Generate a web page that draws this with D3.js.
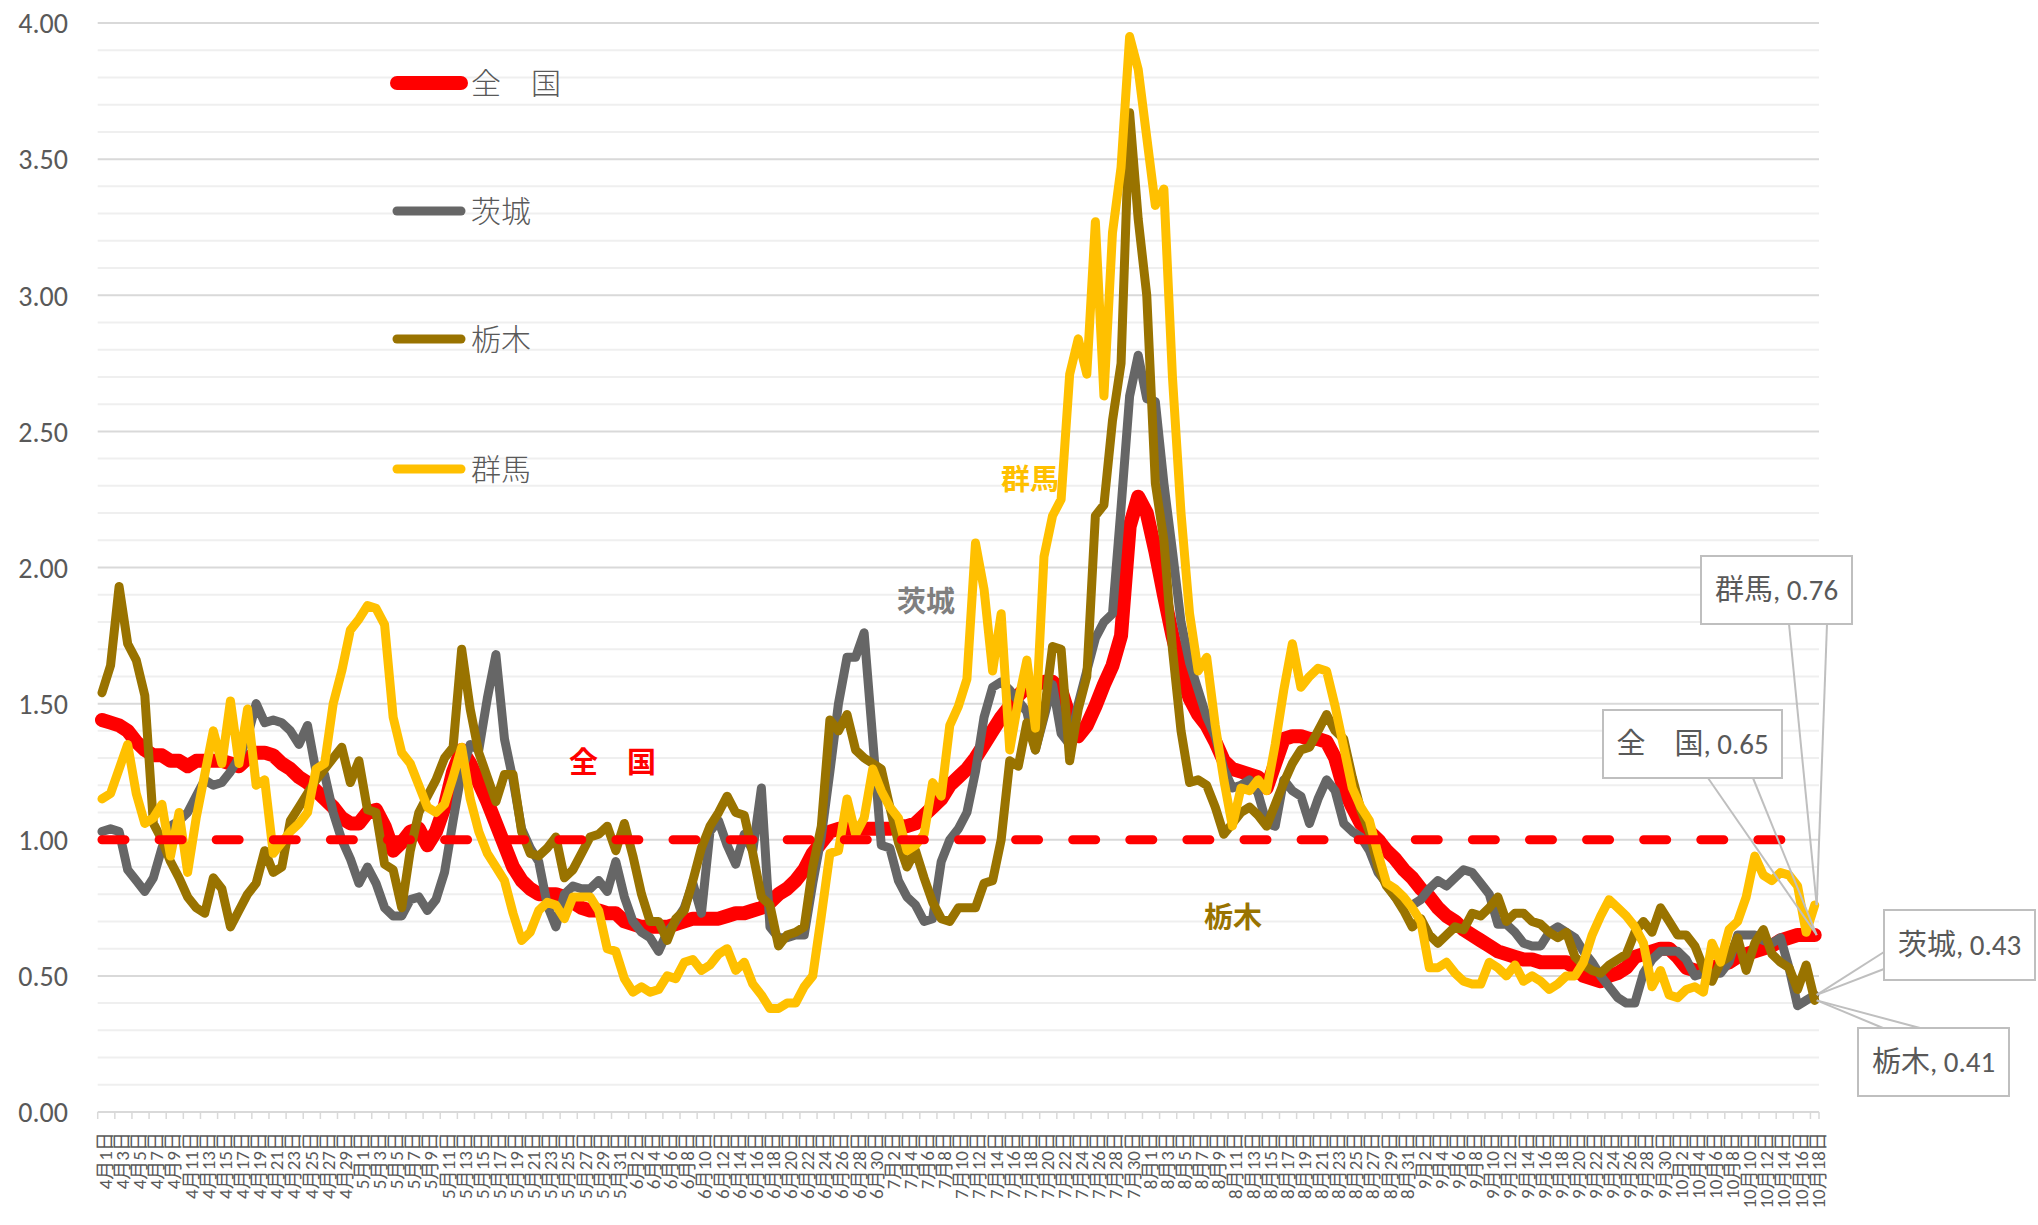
<!DOCTYPE html>
<html>
<head>
<meta charset="utf-8">
<script src="https://cdn.jsdelivr.net/npm/d3@7"></script>
<style>
  html, body { margin: 0; padding: 0; background: #ffffff; }
  svg { display: block; }
  text { font-family: Calibri, Carlito, Lato, "Noto Sans CJK JP", sans-serif; }
</style>
</head>
<body>
<svg id="chart" width="2038" height="1225"></svg>
<script>
// ---------- data ----------
const monthDays = [[4, 30], [5, 31], [6, 30], [7, 31], [8, 31], [9, 30], [10, 18]];
const categories = [];
monthDays.forEach(([m, n]) => { for (let d = 1; d <= n; d++) categories.push(m + "月" + d + "日"); });

const zenkoku = [
1.44,1.43,1.42,1.40,1.36,1.33,1.31,1.31,1.29,1.29,1.27,1.29,1.29,1.29,1.29,1.28,1.27,1.30,1.32,1.32,1.31,1.28,1.26,1.23,1.21,1.18,1.15,1.12,1.08,1.06,1.06,1.10,1.11,1.05,
0.96,0.99,1.03,1.04,0.98,1.03,1.12,1.25,1.33,1.28,1.21,1.14,1.06,0.98,0.90,0.85,0.82,0.80,0.80,0.80,0.79,0.77,0.75,0.74,0.74,0.73,0.73,0.70,0.69,0.68,0.68,0.68,0.68,0.69,
0.70,0.71,0.71,0.71,0.71,0.72,0.73,0.73,0.74,0.75,0.77,0.80,0.82,0.85,0.89,0.95,0.99,1.03,1.04,1.04,1.04,1.04,1.04,1.04,1.04,1.05,1.05,1.06,1.09,1.12,1.15,
1.20,1.23,1.26,1.30,1.35,1.40,1.45,1.49,1.53,1.56,1.57,1.58,1.58,1.55,1.45,1.38,1.42,1.49,1.57,1.64,1.75,2.15,2.26,2.20,2.06,1.90,1.75,1.62,1.52,1.46,1.42,1.36,1.29,1.26,1.25,1.24,
1.23,1.19,1.28,1.37,1.38,1.38,1.37,1.37,1.36,1.30,1.19,1.12,1.06,1.03,1.00,0.96,0.93,0.89,0.86,0.82,0.79,0.75,0.72,0.70,0.67,0.65,0.63,0.61,0.59,0.58,0.57,0.56,
0.56,0.55,0.55,0.55,0.55,0.53,0.50,0.49,0.48,0.50,0.51,0.53,0.57,0.58,0.59,0.60,0.60,0.57,0.53,0.52,0.52,0.53,0.54,0.55,0.57,0.58,0.59,0.60,0.61,0.63,0.64,0.65,0.65,0.65
];
const ibaraki = [
1.03,1.04,1.03,0.89,0.85,0.81,0.86,0.97,1.05,1.07,1.10,1.16,1.22,1.20,1.21,1.25,1.30,1.38,1.50,1.43,1.44,1.43,1.40,1.35,1.42,1.25,1.24,1.10,1.00,0.93,0.84,0.90,0.84,0.75,
0.72,0.72,0.78,0.79,0.74,0.78,0.88,1.07,1.25,1.35,1.33,1.52,1.68,1.37,1.22,1.04,0.97,0.92,0.76,0.68,0.80,0.83,0.82,0.82,0.85,0.81,0.92,0.79,0.70,0.66,0.64,0.59,0.66,0.70,
0.75,0.84,0.73,1.03,1.07,0.98,0.91,1.02,0.96,1.19,0.68,0.64,0.64,0.65,0.65,0.84,1.01,1.25,1.50,1.67,1.67,1.76,1.37,0.98,0.97,0.85,0.79,0.76,0.70,0.71,0.92,
1.00,1.04,1.10,1.25,1.45,1.56,1.58,1.55,1.51,1.47,1.33,1.45,1.57,1.39,1.35,1.50,1.62,1.74,1.80,1.83,2.22,2.63,2.78,2.62,2.61,2.31,2.06,1.80,1.65,1.55,1.45,1.38,1.26,1.19,1.20,1.22,
1.17,1.06,1.05,1.22,1.18,1.16,1.06,1.15,1.22,1.18,1.06,1.03,1.01,0.96,0.88,0.84,0.79,0.77,0.76,0.78,0.82,0.85,0.83,0.86,0.89,0.88,0.84,0.80,0.69,0.69,0.66,0.62,
0.61,0.61,0.66,0.68,0.66,0.64,0.59,0.55,0.50,0.46,0.42,0.40,0.40,0.51,0.56,0.59,0.59,0.59,0.56,0.50,0.51,0.51,0.51,0.55,0.65,0.65,0.65,0.63,0.62,0.64,0.53,0.39,0.41,0.43
];
const tochigi = [
1.54,1.64,1.93,1.72,1.66,1.53,1.06,1.00,0.92,0.86,0.79,0.75,0.73,0.86,0.82,0.68,0.74,0.80,0.84,0.96,0.88,0.90,1.07,1.12,1.17,1.22,1.26,1.30,1.34,1.21,1.29,1.11,1.10,0.91,
0.89,0.75,0.96,1.10,1.16,1.22,1.30,1.34,1.70,1.48,1.32,1.23,1.14,1.24,1.24,1.03,0.95,0.94,0.97,1.01,0.86,0.89,0.95,1.01,1.02,1.05,0.96,1.06,0.94,0.80,0.70,0.70,0.63,0.71,
0.74,0.85,0.97,1.05,1.10,1.16,1.10,1.09,0.95,0.79,0.76,0.61,0.65,0.66,0.68,0.90,1.05,1.44,1.40,1.46,1.33,1.30,1.28,1.26,1.12,0.99,0.90,0.96,0.86,0.77,0.71,
0.70,0.75,0.75,0.75,0.84,0.85,1.00,1.29,1.27,1.43,1.33,1.46,1.71,1.70,1.29,1.48,1.60,2.19,2.23,2.54,2.75,3.67,3.28,3.00,2.31,2.10,1.70,1.40,1.21,1.22,1.20,1.12,1.02,1.06,1.10,1.12,
1.09,1.05,1.13,1.21,1.28,1.33,1.34,1.40,1.46,1.40,1.37,1.23,1.11,1.03,0.90,0.83,0.79,0.74,0.68,0.71,0.65,0.62,0.65,0.68,0.67,0.73,0.72,0.75,0.79,0.70,0.73,0.73,
0.70,0.69,0.66,0.64,0.66,0.57,0.54,0.52,0.51,0.54,0.56,0.58,0.66,0.70,0.66,0.75,0.70,0.65,0.65,0.61,0.53,0.48,0.55,0.57,0.64,0.52,0.62,0.67,0.58,0.55,0.53,0.45,0.54,0.41
];
const gunma = [
1.15,1.17,1.26,1.35,1.17,1.06,1.08,1.13,0.94,1.10,0.88,1.08,1.24,1.40,1.28,1.51,1.28,1.48,1.20,1.22,0.95,0.99,1.03,1.06,1.10,1.26,1.28,1.50,1.62,1.77,1.81,1.86,1.85,1.79,
1.45,1.32,1.28,1.20,1.12,1.10,1.13,1.23,1.34,1.15,1.03,0.95,0.90,0.85,0.73,0.63,0.66,0.74,0.77,0.76,0.71,0.79,0.79,0.79,0.74,0.60,0.59,0.49,0.44,0.46,0.44,0.45,0.50,0.49,
0.55,0.56,0.52,0.54,0.58,0.60,0.52,0.55,0.47,0.43,0.38,0.38,0.40,0.40,0.46,0.50,0.72,0.95,0.96,1.15,1.02,1.08,1.26,1.18,1.12,1.08,0.96,0.98,1.02,1.21,1.16,
1.42,1.49,1.59,2.09,1.92,1.62,1.83,1.33,1.51,1.66,1.41,2.04,2.19,2.25,2.71,2.84,2.71,3.27,2.63,3.23,3.47,3.95,3.83,3.58,3.33,3.39,2.70,2.20,1.83,1.62,1.67,1.42,1.22,1.05,1.19,1.18,
1.22,1.18,1.35,1.55,1.72,1.56,1.60,1.63,1.62,1.49,1.34,1.19,1.12,1.07,0.95,0.84,0.82,0.79,0.75,0.70,0.53,0.53,0.55,0.51,0.48,0.47,0.47,0.55,0.53,0.50,0.54,0.48,
0.50,0.48,0.45,0.47,0.50,0.50,0.55,0.65,0.72,0.78,0.75,0.72,0.68,0.62,0.46,0.52,0.43,0.42,0.45,0.46,0.44,0.62,0.55,0.67,0.70,0.79,0.94,0.87,0.85,0.88,0.87,0.83,0.66,0.76
];
const baseline = categories.map(() => 1.0);

const seriesNames = ["全　国", "茨城", "栃木", "群馬"];
const seriesColors = ["#FF0000", "#666666", "#997300", "#FFC000"];
const yTicks = [0, 0.5, 1, 1.5, 2, 2.5, 3, 3.5, 4];

// ---------- layout ----------
const svg = d3.select("#chart");
const X0 = 97.7, X1 = 1819, Y0 = 1112, Y1 = 23;

const x = d3.scalePoint().domain(categories).range([X0, X1]).padding(0.5);
const y = d3.scaleLinear().domain([0, 4]).range([Y0, Y1]);
const step = x.step();

svg.append("defs").append("clipPath").attr("id", "dashclip")
  .append("rect").attr("x", 0).attr("y", 0).attr("width", 1800).attr("height", 1225);

// gridlines
const minor = d3.range(1, 40).map(i => i / 10).filter(v => Math.abs(v * 2 - Math.round(v * 2)) > 1e-6);
svg.append("g").selectAll("line").data(minor).join("line")
  .attr("x1", X0).attr("x2", X1).attr("y1", d => y(d)).attr("y2", d => y(d))
  .attr("stroke", "#efefef").attr("stroke-width", 2);
svg.append("g").selectAll("line").data(yTicks.filter(v => v > 0)).join("line")
  .attr("x1", X0).attr("x2", X1).attr("y1", d => y(d)).attr("y2", d => y(d))
  .attr("stroke", "#d9d9d9").attr("stroke-width", 2);

// y axis labels
const yAxis = d3.axisLeft(y).tickValues(yTicks).tickFormat(d3.format(".2f")).tickSize(0).tickPadding(0);
const gy = svg.append("g").attr("transform", "translate(68,0)").call(yAxis);
gy.select(".domain").remove();
gy.selectAll("text").attr("fill", "#595959").style("font-size", "28px")
  .style("font-family", "Calibri, Carlito, Lato, sans-serif").attr("dy", "0.35em");

// x axis
const gx = svg.append("g");
gx.append("line").attr("x1", X0).attr("x2", X1).attr("y1", Y0).attr("y2", Y0)
  .attr("stroke", "#d9d9d9").attr("stroke-width", 2);
const tickIdx = d3.range(0, 201, 2);
gx.selectAll("line.tick").data(tickIdx).join("line").attr("class", "tick")
  .attr("x1", i => x(categories[i]) - step / 2).attr("x2", i => x(categories[i]) - step / 2)
  .attr("y1", Y0).attr("y2", Y0 + 7).attr("stroke", "#d9d9d9").attr("stroke-width", 1.5);
gx.append("line").attr("x1", X1).attr("x2", X1).attr("y1", Y0).attr("y2", Y0 + 7)
  .attr("stroke", "#d9d9d9").attr("stroke-width", 1.5);
gx.selectAll("text").data(tickIdx).join("text")
  .attr("transform", i => `translate(${x(categories[i]) + 3.5},1132) rotate(-90)`)
  .attr("text-anchor", "end").attr("dominant-baseline", "central")
  .attr("fill", "#595959").style("font-size", "19px")
  .text(i => categories[i]);

// lines
const line = d3.line().x((d, i) => x(categories[i])).y(d => y(d));
const seriesData = [zenkoku, ibaraki, tochigi, gunma];
const widths = [14, 9, 9, 9];
seriesData.forEach((s, k) => {
  svg.append("path").datum(s).attr("d", line).attr("fill", "none")
    .attr("stroke", seriesColors[k]).attr("stroke-width", widths[k])
    .attr("stroke-linejoin", "round").attr("stroke-linecap", "round");
});
svg.append("path").datum(baseline).attr("d", line).attr("fill", "none")
  .attr("clip-path", "url(#dashclip)")
  .attr("stroke", "#FF0000").attr("stroke-width", 9)
  .attr("stroke-dasharray", "23 34.1").attr("stroke-linecap", "round");

// legend
const legY = [83, 211, 339, 469];
const leg = svg.append("g");
seriesNames.forEach((n, k) => {
  leg.append("line").attr("x1", 397).attr("x2", 461).attr("y1", legY[k]).attr("y2", legY[k])
    .attr("stroke", seriesColors[k]).attr("stroke-width", k === 0 ? 14 : 9).attr("stroke-linecap", "round");
  leg.append("text").attr("x", 471).attr("y", legY[k]).attr("dy", "0.36em")
    .attr("fill", "#595959").style("font-size", "30px")
    .style("font-family", "'Noto Sans CJK JP', sans-serif").style("font-weight", 300)
    .text(n);
});

// in-chart annotations
const ann = [
  { t: "全　国", x: 569, y: 763, c: "#FF0000" },
  { t: "茨城", x: 897, y: 602, c: "#7F7F7F" },
  { t: "群馬", x: 1001, y: 480, c: "#FFC000" },
  { t: "栃木", x: 1204, y: 918, c: "#997300" }
];
svg.append("g").selectAll("text").data(ann).join("text")
  .attr("x", d => d.x).attr("y", d => d.y).attr("dy", "0.36em")
  .attr("fill", d => d.c).style("font-size", "29px").style("font-weight", 700)
  .style("font-family", "'Noto Sans CJK JP', sans-serif")
  .text(d => d.t);

// callout data labels
const lastI = categories.length - 1;
const px = x(categories[lastI]);
const callouts = [
  { t: "群馬, " + gunma[lastI].toFixed(2), bx: 1701, by: 556, bw: 151, bh: 68, w: [[1789, 624], [1827, 624]], v: gunma[lastI] },
  { t: "全　国, " + zenkoku[lastI].toFixed(2), bx: 1603, by: 710, bw: 179, bh: 68, w: [[1708, 778], [1753, 778]], v: zenkoku[lastI] },
  { t: "茨城, " + ibaraki[lastI].toFixed(2), bx: 1884, by: 910, bw: 151, bh: 70, w: [[1884, 952], [1884, 969]], v: ibaraki[lastI] },
  { t: "栃木, " + tochigi[lastI].toFixed(2), bx: 1858, by: 1028, bw: 151, bh: 68, w: [[1883, 1028], [1920, 1028]], v: tochigi[lastI] }
];
const cg = svg.append("g");
callouts.forEach(c => {
  const tip = [px + 2, y(c.v)];
  cg.append("rect").attr("x", c.bx).attr("y", c.by).attr("width", c.bw).attr("height", c.bh)
    .attr("fill", "#ffffff").attr("stroke", "#bfbfbf").attr("stroke-width", 2);
  c.w.forEach(p => {
    cg.append("line").attr("x1", p[0]).attr("y1", p[1]).attr("x2", tip[0]).attr("y2", tip[1])
      .attr("stroke", "#bfbfbf").attr("stroke-width", 2);
  });
  cg.append("text").attr("x", c.bx + c.bw / 2).attr("y", c.by + c.bh / 2).attr("dy", "0.36em")
    .attr("text-anchor", "middle").attr("fill", "#595959").style("font-size", "29px")
    .style("font-family", "Calibri, Carlito, Lato, 'Noto Sans CJK JP', sans-serif")
    .text(c.t);
});
</script>
</body>
</html>
